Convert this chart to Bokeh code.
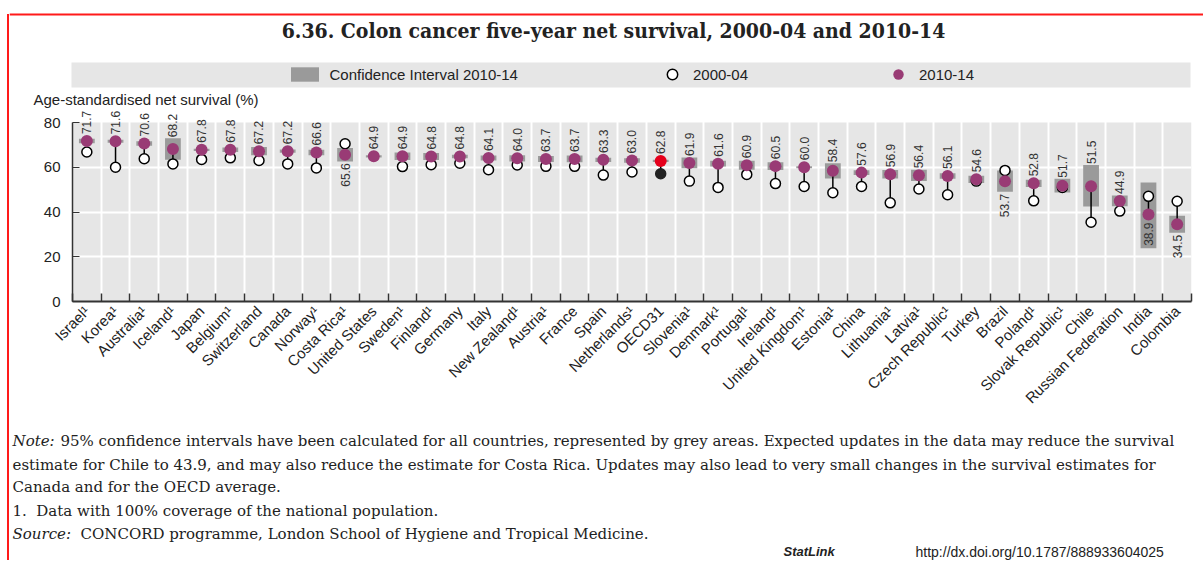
import math
from bokeh.plotting import figure
from bokeh.layouts import row, column
from bokeh.models import (ColumnDataSource, Range1d, FixedTicker, LinearAxis, Label, LabelSet,
                          Legend, LegendItem, BoxAnnotation, Grid, Div)
from bokeh.core.properties import value
from bokeh.embed import file_html
from bokeh.resources import INLINE

# ---------------- data ----------------
countries = ["Israel¹", "Korea¹", "Australia¹", "Iceland¹", "Japan", "Belgium¹", "Switzerland",
             "Canada", "Norway¹", "Costa Rica¹", "United States", "Sweden¹", "Finland¹", "Germany",
             "Italy", "New Zealand¹", "Austria¹", "France", "Spain", "Netherlands¹", "OECD31",
             "Slovenia¹", "Denmark¹", "Portugal¹", "Ireland¹", "United Kingdom¹", "Estonia¹", "China",
             "Lithuania¹", "Latvia¹", "Czech Republic¹", "Turkey", "Brazil", "Poland¹",
             "Slovak Republic¹", "Chile", "Russian Federation", "India", "Colombia"]
surv_2010_14 = [71.7, 71.6, 70.6, 68.2, 67.8, 67.8, 67.2, 67.2, 66.6, 65.6, 64.9, 64.9, 64.8, 64.8,
                64.1, 64.0, 63.7, 63.7, 63.3, 63.0, 62.8, 61.9, 61.6, 60.9, 60.5, 60.0, 58.4, 57.6,
                56.9, 56.4, 56.1, 54.6, 53.7, 52.8, 51.7, 51.5, 44.9, 38.9, 34.5]
surv_2000_04 = [66.8, 60.0, 63.8, 61.5, 63.5, 64.2, 63.0, 61.5, 59.7, 70.5, float("nan"), 60.3, 61.1,
                61.8, 58.9, 61.0, 60.4, 60.4, 56.5, 57.9, 57.1, 53.8, 51.0, 56.8, 52.7, 51.4, 48.6,
                51.4, 44.1, 50.3, 47.7, 53.8, 58.6, 45.0, 51.0, 35.4, 40.4, 47.0, 44.8]
ci_low = [70.7, 70.9, 69.6, 63.4, 67.3, 66.8, 65.4, 66.5, 65.4, 62.6, 64.4, 63.2, 63.2, 64.0, 63.0,
          62.6, 62.4, 62.2, 62.3, 62.0, 62.3, 59.6, 60.3, 58.9, 58.8, 59.6, 55.0, 56.5, 55.0, 53.9,
          54.9, 53.0, 49.0, 51.2, 48.7, 42.5, 42.6, 23.8, 30.7]
ci_high = [72.7, 72.3, 71.6, 73.0, 68.3, 68.8, 69.0, 67.9, 67.8, 68.6, 65.4, 66.6, 66.4, 65.6, 65.2,
           65.4, 65.0, 65.2, 64.3, 64.0, 63.3, 64.4, 62.9, 62.9, 62.2, 60.4, 61.8, 58.7, 58.8, 58.9,
           57.3, 56.2, 58.6, 54.4, 54.9, 61.0, 47.4, 53.2, 38.3]
oecd_label = "OECD31"

title_text = "6.36. Colon cancer five-year net survival, 2000-04 and 2010-14"
y_title = "Age-standardised net survival (%)"
y_ticks = [0, 20, 40, 60, 80]
legend_labels = ["Confidence Interval 2010-14", "2000-04", "2010-14"]
note_head = "Note:"
note_lines = [
    "95% confidence intervals have been calculated for all countries, represented by grey areas. Expected updates in the data may reduce the survival",
    "estimate for Chile to 43.9, and may also reduce the estimate for Costa Rica. Updates may also lead to very small changes in the survival estimates for",
    "Canada and for the OECD average.",
    "1.\u00a0 Data with 100% coverage of the national population.",
]
source_head = "Source:"
source_text = "CONCORD programme, London School of Hygiene and Tropical Medicine."
statlink_text = "StatLink"
statlink_url = "http://dx.doi.org/10.1787/888933604025"

# ---------------- styling ----------------
PURPLE = "#993b75"
RED = "#e5001c"
GREY_BOX = "#9a9a9a"
BG = "#e6e6e6"
TXT = "#222222"
SANS = "Liberation Sans"
SERIF = "DejaVu Serif"
RULE = "#ff1a1a"

W = 1194
TOP_H, FRAME_H, MAIN_BOTTOM, BOT_H = 109, 192, 124, 135
MAIN_H = FRAME_H + MAIN_BOTTOM
Y_MAX = FRAME_H / 2.2375          # keeps 0..80 on the original's pixel scale

n = len(countries)
idx = list(range(n))
is_oecd = [c == oecd_label for c in countries]

# value-label anchors, derived from the data
R_DOT = 6 / 2.2375
up_x, up_y, up_t, dn_x, dn_y, dn_t = [], [], [], [], [], []
for i in idx:
    v, o, lo, hi = surv_2010_14[i], surv_2000_04[i], ci_low[i], ci_high[i]
    txt = f"{v:.1f}"
    if not math.isnan(o) and o > v:
        a = v - R_DOT if (v - lo) > 10 else min(v - R_DOT, lo)
        dn_x.append(i); dn_y.append(a); dn_t.append(txt)
    else:
        up_x.append(i); up_y.append(max(v + R_DOT, hi)); up_t.append(txt)

src = ColumnDataSource(dict(
    x=idx, s2010=surv_2010_14, s2000=surv_2000_04, lo=ci_low, hi=ci_high,
    fc2010=[RED if f else PURPLE for f in is_oecd],
    fc2000=["#222222" if f else "white" for f in is_oecd],
    lc2000=["#222222" if f else "black" for f in is_oecd],
))

def canvas_label(fig, x, y, text, size, font=SANS, style="normal", align="left",
                 baseline="middle", color=TXT):
    fig.add_layout(Label(x=x, y=y, x_units="canvas", y_units="canvas", text=text,
                         text_align=align, text_baseline=baseline, text_font=font,
                         text_font_style=style, text_font_size=size, text_color=color))

def bare_fig(h):
    f = figure(width=W, height=h, output_backend="svg", toolbar_location=None,
               x_range=Range1d(0, W), y_range=Range1d(0, h), x_axis_type=None, y_axis_type=None,
               min_border=0, frame_align=False)
    f.outline_line_color = None
    f.background_fill_color = "white"
    f.border_fill_color = "white"
    return f

# ---------------- top: title, legend, y-axis title ----------------
top = bare_fig(TOP_H)
top.add_layout(BoxAnnotation(left=0, right=W, top=13, bottom=15, left_units="canvas",
                             right_units="canvas", top_units="canvas", bottom_units="canvas",
                             fill_color=RULE, fill_alpha=1, line_color=None))
canvas_label(top, 604, 30, title_text, "21px", font="DejaVu Serif Condensed", style="bold",
             align="center")
top.add_layout(BoxAnnotation(left=62, right=1181, top=62, bottom=87, left_units="canvas",
                             right_units="canvas", top_units="canvas", bottom_units="canvas",
                             fill_color=BG, fill_alpha=1, line_color=None))
# hidden copies of the chart's renderers, only used to draw the legend keys
lg_ci = top.vbar(x="x", width=0.55, bottom="lo", top="hi", source=src,
                 fill_color=GREY_BOX, line_color=None, visible=False)
lg_old = top.scatter(x="x", y="s2000", source=src, size=10, fill_color="white",
                     line_color="black", line_width=1.5, visible=False)
lg_new = top.scatter(x="x", y="s2010", source=src, size=12, fill_color=PURPLE,
                     line_color=None, visible=False)

def mk_legend(label, rend, loc, gw, gh):
    return Legend(items=[LegendItem(label=label, renderers=[rend])], location=loc,
                  glyph_width=gw, glyph_height=gh, label_height=gh, padding=0, margin=0, spacing=0,
                  border_line_color=None, background_fill_alpha=0, label_standoff=8,
                  inactive_fill_alpha=0,
                  label_text_font=SANS, label_text_font_size="15px", label_text_color=TXT)

top.add_layout(mk_legend(legend_labels[0], lg_ci, (277.5, 26), 35, 18))
top.add_layout(mk_legend(legend_labels[1], lg_old, (650, 22), 26, 26))
top.add_layout(mk_legend(legend_labels[2], lg_new, (876, 22), 26, 26))
canvas_label(top, 24, 99, y_title, "15px")

# ---------------- main chart ----------------
p = figure(width=W, height=MAIN_H, output_backend="svg", toolbar_location=None,
           x_range=Range1d(-0.5, n - 0.5), y_range=Range1d(0, Y_MAX),
           x_axis_type=None, y_axis_type=None, frame_align=False,
           min_border_left=63, min_border_top=0, min_border_right=12,
           min_border_bottom=MAIN_BOTTOM)
p.background_fill_color = "white"
p.border_fill_color = "white"
p.outline_line_color = None

p.add_layout(BoxAnnotation(bottom=y_ticks[0], top=y_ticks[-1], fill_color=BG, fill_alpha=1,
                           line_color=None, level="image"))
boundaries = [i - 0.5 for i in range(n + 1)]
p.add_layout(Grid(dimension=0, ticker=FixedTicker(ticks=boundaries),
                  grid_line_color="white", grid_line_width=2))
p.add_layout(Grid(dimension=1, ticker=FixedTicker(ticks=y_ticks[1:-1]),
                  grid_line_color="white", grid_line_width=2))

xax = LinearAxis(ticker=FixedTicker(ticks=idx, minor_ticks=boundaries),
                 major_label_overrides={i: c for i, c in enumerate(countries)},
                 major_label_orientation=math.pi / 4,
                 major_tick_in=0, major_tick_out=0, major_tick_line_color=None,
                 minor_tick_in=8, minor_tick_out=0, minor_tick_line_color="#333333",
                 minor_tick_line_width=1.5,
                 axis_line_color="#333333", axis_line_width=2,
                 major_label_standoff=7,
                 major_label_text_font=SANS, major_label_text_font_size="15px",
                 major_label_text_color=TXT)
p.add_layout(xax, "below")

yax = LinearAxis(ticker=FixedTicker(ticks=y_ticks), bounds=(y_ticks[0], y_ticks[-1]),
                 major_tick_in=7, major_tick_out=0, major_tick_line_color="#333333",
                 minor_tick_line_color=None, axis_line_color="#333333", axis_line_width=1.5,
                 major_label_standoff=12, major_label_text_font=SANS,
                 major_label_text_font_size="15px", major_label_text_color=TXT)
p.add_layout(yax, "left")

p.vbar(x="x", width=0.55, bottom="lo", top="hi", source=src, fill_color=GREY_BOX, line_color=None)
p.segment(x0="x", y0="s2000", x1="x", y1="s2010", source=src, line_color="black", line_width=1.5)
p.scatter(x="x", y="s2000", source=src, size=10, fill_color="fc2000",
          line_color="lc2000", line_width=1.5)
p.scatter(x="x", y="s2010", source=src, size=12, fill_color="fc2010", line_color=None)

p.add_layout(LabelSet(x="x", y="y", text="t", source=ColumnDataSource(dict(x=up_x, y=up_y, t=up_t)),
                      angle=math.pi / 2, text_align="left", text_baseline="middle", y_offset=1,
                      text_font=value(SANS), text_font_size="12px", text_color="#333333"))
p.add_layout(LabelSet(x="x", y="y", text="t", source=ColumnDataSource(dict(x=dn_x, y=dn_y, t=dn_t)),
                      angle=math.pi / 2, text_align="right", text_baseline="middle", y_offset=-2,
                      text_font=value(SANS), text_font_size="12px", text_color="#333333"))

# ---------------- bottom: notes ----------------
bot = bare_fig(BOT_H)
NOTE_SIZE = "15px"
canvas_label(bot, 3, 15, note_head, NOTE_SIZE, font=SERIF, style="italic")
canvas_label(bot, 51, 15, note_lines[0], NOTE_SIZE, font=SERIF)
for ln, yy in zip(note_lines[1:], [39, 61, 85]):
    canvas_label(bot, 3, yy, ln, NOTE_SIZE, font=SERIF)
canvas_label(bot, 3, 108, source_head, NOTE_SIZE, font=SERIF, style="italic")
canvas_label(bot, 71, 108, source_text, NOTE_SIZE, font=SERIF)
canvas_label(bot, 774, 126, statlink_text, "13px", style="bold italic")
canvas_label(bot, 906, 126, statlink_url, "14px")

rule = Div(width=2, height=TOP_H + MAIN_H + BOT_H - 14, margin=(14, 0, 0, 7),
           styles={"background-color": RULE})
layout = row(rule, column(top, p, bot, spacing=0), spacing=0)

open("out.html", "w").write(file_html(layout, INLINE))
